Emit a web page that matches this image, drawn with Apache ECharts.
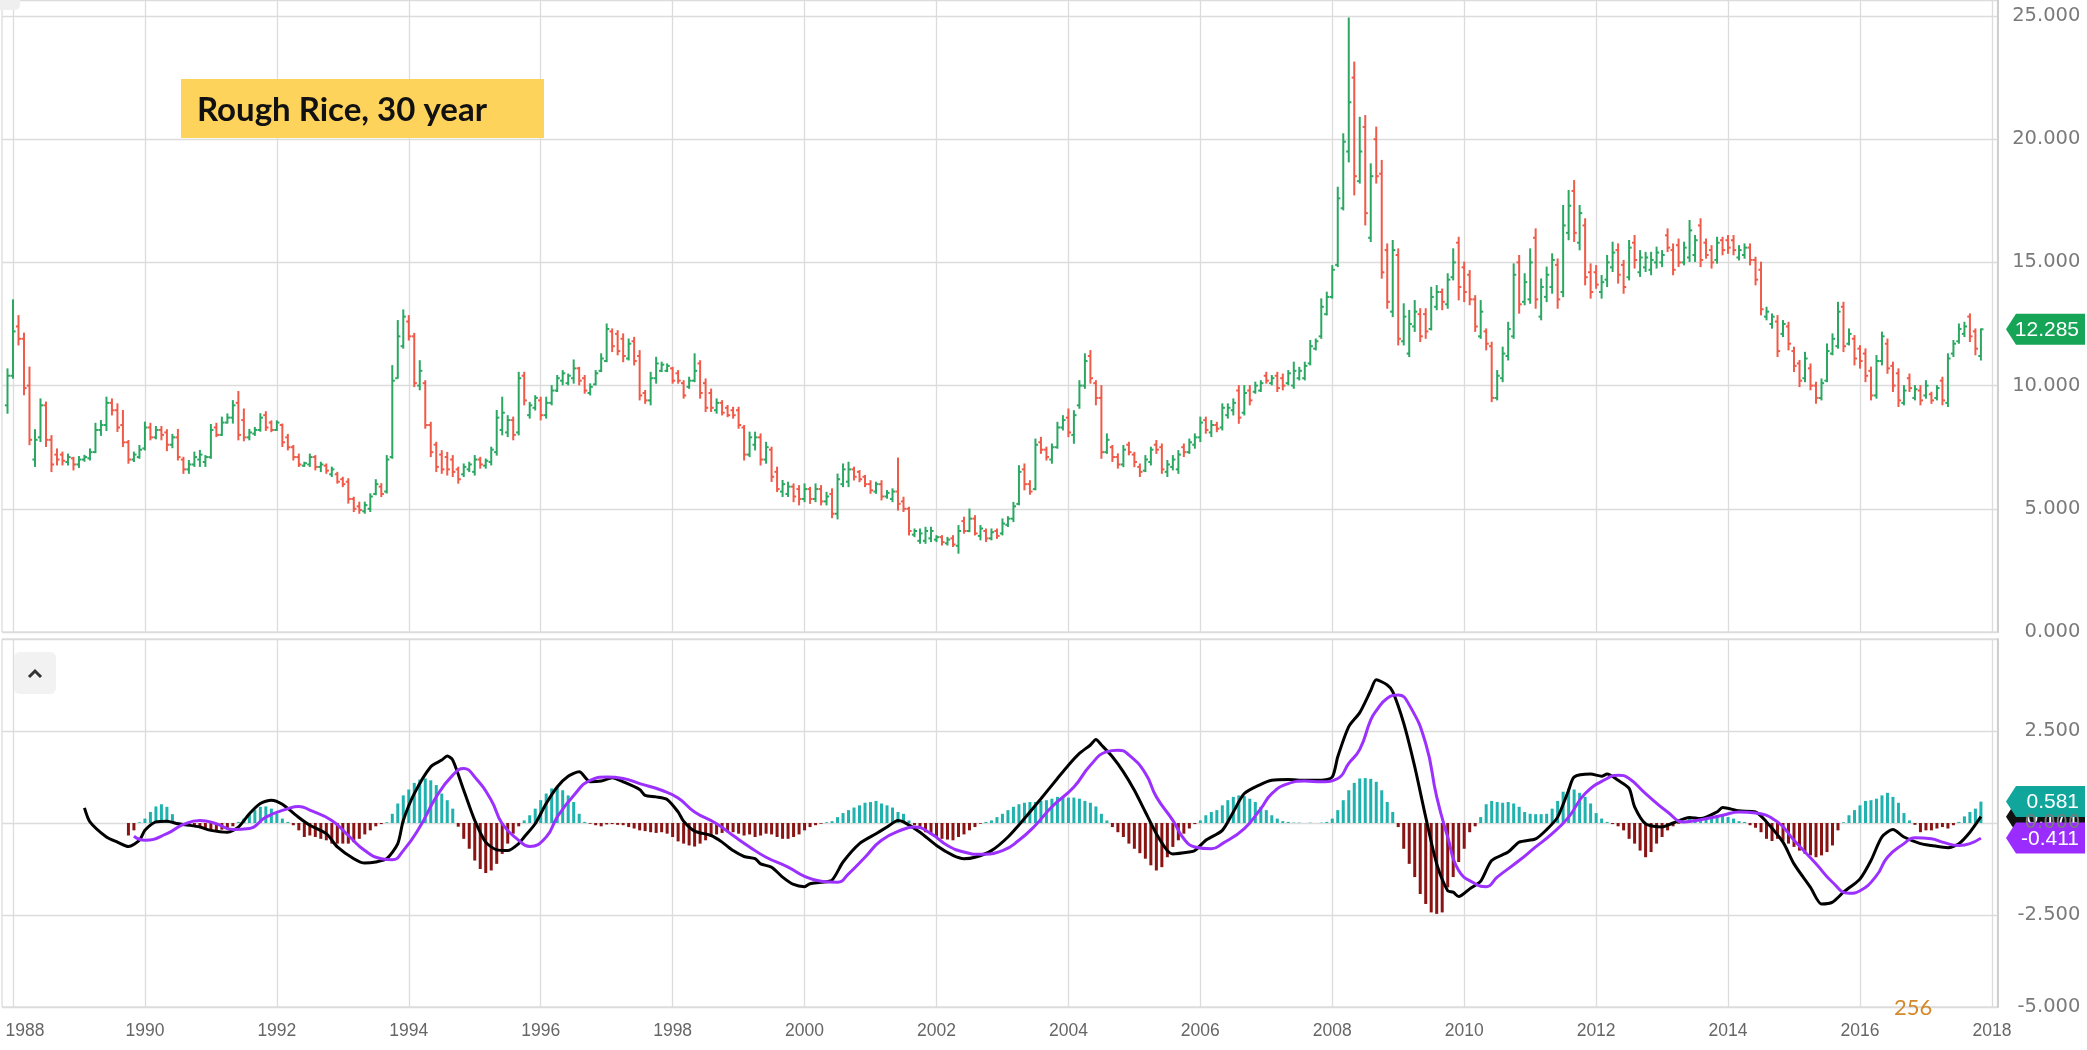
<!DOCTYPE html>
<html>
<head>
<meta charset="utf-8">
<title>Rough Rice, 30 year</title>
<script src="https://cdn.jsdelivr.net/npm/echarts@6/dist/echarts.min.js"></script>
<style>
  html, body { margin: 0; padding: 0; background: #ffffff; }
  #chart { width: 2087px; height: 1050px; }
</style>
</head>
<body>
<div id="chart"></div>
<script>
// Monthly rough rice futures bars, [open, high, low, close], first bar Dec 1987
const firstBarMonth = -1; // months counted from Jan 1988
const priceBars = [
  [9.2,10.66,8.9,10.4],[10.4,13.46,10.32,12.2],[12.4,12.82,11.67,11.9],[11.9,12.11,9.65,9.9],
  [10.0,10.73,7.62,7.8],[7.0,8.19,6.74,7.8],[7.9,9.44,7.75,9.2],[9.2,9.31,7.55,7.8],
  [7.8,7.95,6.53,6.8],[7.2,7.41,6.8,7.0],[7.2,7.28,6.8,6.95],[6.9,7.2,6.8,7.1],
  [7.05,7.07,6.6,6.8],[6.8,7.1,6.7,7.0],[7.0,7.15,6.95,7.1],[7.05,7.41,7.0,7.3],
  [7.3,8.45,7.3,8.2],[8.2,8.56,8.0,8.4],[8.4,9.51,8.2,9.3],[9.3,9.44,8.83,9.0],
  [9.0,9.24,8.16,8.3],[8.4,8.97,7.55,7.7],[7.7,7.75,6.87,7.0],[7.0,7.28,6.94,7.2],
  [7.1,7.55,7.07,7.4],[7.45,8.5,7.41,8.3],[8.3,8.45,7.82,7.9],[7.9,8.32,7.86,8.2],
  [8.2,8.32,7.82,8.0],[8.1,8.19,7.38,7.6],[7.6,8.0,7.5,7.9],[7.9,8.2,7.0,7.1],
  [7.0,7.07,6.46,6.6],[6.6,6.94,6.46,6.8],[6.8,7.28,6.74,7.1],[7.0,7.35,6.74,7.2],
  [6.9,7.14,6.74,7.1],[7.1,8.4,7.07,8.2],[8.3,8.45,7.95,8.0],[8.0,8.7,8.0,8.5],
  [8.5,8.83,8.5,8.7],[8.7,9.37,8.5,9.2],[9.3,9.74,7.82,8.0],[8.6,9.03,7.78,7.9],
  [7.9,8.2,7.82,8.1],[8.05,8.28,8.0,8.2],[8.2,8.84,8.17,8.7],[8.8,8.92,8.2,8.3],
  [8.5,8.55,8.15,8.2],[8.2,8.55,8.2,8.5],[8.4,8.42,7.55,7.7],[7.9,8.0,7.41,7.5],
  [7.5,7.55,7.0,7.1],[7.1,7.2,6.74,6.8],[6.75,6.87,6.74,6.85],[6.8,7.2,6.74,7.1],
  [7.1,7.14,6.6,6.7],[6.7,6.87,6.53,6.8],[6.75,6.8,6.46,6.55],[6.4,6.67,6.33,6.6],
  [6.4,6.46,6.06,6.1],[6.2,6.26,5.92,6.0],[6.1,6.2,5.25,5.4],[5.4,5.45,4.91,5.0],
  [5.1,5.25,4.84,4.95],[4.9,5.25,4.84,5.15],[5.0,5.59,4.91,5.5],[5.6,6.16,5.59,6.0],
  [5.9,6.0,5.52,5.6],[5.7,7.14,5.66,7.0],[7.1,10.79,7.07,10.2],
  [10.3,12.62,10.32,12.0],[11.6,13.05,11.54,12.8],[12.6,12.82,11.87,12.0],[12.0,12.1,9.98,10.1],
  [10.0,10.99,9.85,10.6],[10.1,10.18,8.29,8.4],[8.4,8.49,7.14,7.3],[7.6,7.68,6.53,6.7],
  [7.2,7.34,6.46,6.6],[7.1,7.27,6.39,6.6],[7.0,7.14,6.33,6.5],[6.6,6.67,6.06,6.2],
  [6.4,6.8,6.33,6.7],[6.6,6.87,6.53,6.8],[6.5,7.14,6.39,7.0],[7.0,7.07,6.67,6.8],
  [6.75,7.0,6.67,6.95],[6.9,7.48,6.8,7.4],[7.3,8.97,7.2,8.7],[8.2,9.51,8.02,8.9],
  [8.1,8.76,7.95,8.6],[8.6,8.7,7.82,8.0],[8.1,10.52,8.02,10.3],[10.4,10.52,9.24,9.4],
  [8.8,9.3,8.7,9.2],[9.1,9.57,9.03,9.5],[9.4,9.51,8.63,8.8],[8.8,9.51,8.7,9.3],
  [9.3,9.98,9.24,9.8],[9.8,10.39,9.78,10.3],[10.2,10.59,10.05,10.5],[10.1,10.45,10.05,10.4],
  [10.3,11.02,10.12,10.7],[10.7,10.72,10.05,10.2],[10.3,10.39,9.71,9.8],[9.7,10.05,9.64,9.95],
  [10.05,10.59,10.05,10.5],[10.6,11.27,10.59,11.1],[11.0,12.48,10.99,12.3],[12.2,12.28,11.4,11.6],
  [12.1,12.21,11.27,11.4],[11.9,12.08,10.99,11.2],[11.1,11.87,11.06,11.7],[11.8,11.94,10.86,11.0],
  [11.2,11.4,9.44,9.6],[9.7,9.78,9.3,9.4],[9.4,10.52,9.24,10.3],[10.3,11.13,10.12,10.9],
  [10.6,10.93,10.59,10.85],[10.6,10.86,10.59,10.8],[10.7,10.72,10.12,10.2],[10.5,10.59,10.12,10.2],
  [10.1,10.18,9.51,9.6],[9.95,10.32,9.91,10.2],[10.2,11.27,10.18,10.6],[10.9,10.99,9.51,9.7],
  [10.1,10.25,8.97,9.1],[9.7,9.84,8.97,9.1],[9.0,9.44,8.9,9.3],[9.3,9.37,8.83,8.9],
  [9.1,9.17,8.76,8.8],[9.0,9.1,8.7,8.8],[9.0,9.1,8.29,8.4],[8.3,8.36,7.0,7.2],
  [7.2,8.09,7.14,7.9],[7.6,8.09,7.41,7.9],[7.9,8.02,6.8,7.0],[7.0,7.68,6.87,7.5],
  [7.4,7.48,6.13,6.3],[6.5,6.67,5.72,5.8],[5.7,6.13,5.52,6.0],[5.6,6.06,5.52,5.9],
  [5.9,5.99,5.31,5.5],[5.8,5.92,5.18,5.4],
  [5.4,5.99,5.31,5.8],[5.8,5.85,5.24,5.4],[5.4,5.99,5.31,5.8],[5.8,5.92,5.18,5.3],
  [5.3,5.65,5.18,5.5],[5.6,5.79,4.66,4.8],[4.8,6.39,4.61,6.2],[6.0,6.8,5.92,6.6],
  [6.1,6.87,5.92,6.6],[6.6,6.67,6.19,6.3],[6.5,6.53,6.12,6.2],[6.3,6.33,5.92,6.0],
  [6.0,6.12,5.65,5.75],[5.7,6.06,5.65,6.0],[6.0,6.12,5.38,5.5],[5.5,5.72,5.45,5.65],
  [5.4,5.79,5.31,5.7],[5.7,7.04,4.97,5.2],[5.3,5.45,4.91,5.0],[5.0,5.04,3.96,4.1],
  [3.95,4.16,3.89,4.1],[3.7,4.16,3.62,4.0],[3.7,4.23,3.62,4.1],[3.8,4.23,3.69,4.1],
  [3.75,3.89,3.69,3.85],[3.85,3.89,3.55,3.65],[3.6,3.82,3.55,3.75],[3.8,3.89,3.49,3.55],
  [3.5,4.3,3.22,4.1],[4.5,4.64,4.03,4.1],[4.1,4.97,4.09,4.6],[4.6,4.7,3.96,4.0],
  [3.9,4.3,3.76,4.2],[4.1,4.16,3.69,3.8],[3.8,4.16,3.76,4.05],[4.1,4.16,3.82,3.9],
  [4.0,4.57,3.96,4.4],[4.35,4.66,4.3,4.6],[4.6,5.24,4.5,5.1],[5.2,6.73,5.18,6.5],
  [6.6,6.8,5.79,6.0],[6.0,6.12,5.61,5.7],[5.8,7.81,5.79,7.6],[7.7,7.88,7.27,7.4],
  [7.4,7.48,7.0,7.1],[7.0,7.61,6.87,7.5],[7.5,8.49,7.48,8.3],[8.3,8.76,8.22,8.6],
  [8.7,9.03,7.95,8.1],[8.0,8.96,7.68,8.8],[9.2,10.18,9.1,10.0],[10.0,11.27,9.91,11.0],
  [11.2,11.4,10.12,10.3],[10.1,10.18,9.24,9.5],[9.5,9.98,7.07,7.3],[7.3,8.02,7.27,7.8],
  [7.5,7.55,6.94,7.1],[7.1,7.21,6.67,6.8],[6.8,7.55,6.73,7.4],[7.6,7.68,7.21,7.3],
  [7.2,7.27,6.73,6.9],[6.7,6.8,6.33,6.5],[6.55,7.14,6.53,7.0],[6.9,7.48,6.8,7.4],
  [7.6,7.75,7.27,7.4],[7.5,7.61,6.46,6.6],[6.5,6.94,6.33,6.8],[6.7,7.14,6.6,7.0],
  [6.6,7.34,6.46,7.2],[7.5,7.61,7.14,7.3],[7.3,7.81,7.27,7.7],[7.6,8.02,7.48,7.9],
  [7.9,8.7,7.75,8.5],[8.6,8.7,8.09,8.2],[8.1,8.56,7.95,8.4],[8.4,8.49,8.15,8.25],
  [8.3,9.24,8.22,9.1],[8.8,9.24,8.7,9.1],[9.0,9.44,8.83,9.3],[9.8,9.98,8.49,8.7],
  [8.9,9.98,8.83,9.7],[9.8,9.98,9.24,9.4],[9.75,10.12,9.71,10.0],[9.8,10.18,9.78,10.1],
  [10.4,10.52,10.12,10.2],[10.1,10.39,10.05,10.3],[10.4,10.52,9.78,9.9],[10.3,10.45,9.85,10.0],
  [10.1,10.59,10.05,10.5],[10.0,10.93,9.91,10.6],[10.3,10.72,10.25,10.6],[10.3,10.93,10.25,10.8],
  [10.9,11.81,10.86,11.6],[11.5,11.87,11.47,11.8],[12.0,13.5,11.94,13.2],[12.9,13.77,12.89,13.6],
  [13.6,14.85,13.57,14.7],[14.9,18.03,14.85,17.6],[17.2,20.2,17.15,19.9],[19.5,24.9,19.1,21.5],
  [22.5,23.11,17.76,18.5],[18.3,20.87,18.24,19.5],[20.5,20.94,16.54,17.0],[16.0,18.98,15.87,18.5],
  [20.0,20.47,18.24,18.5],[18.6,19.12,14.38,14.6],[15.5,15.73,13.16,13.4],[13.0,15.87,12.82,15.5],
  [15.3,15.53,11.67,11.9],[11.8,13.3,11.67,12.8],[11.3,13.03,11.2,12.5],[12.4,13.43,12.22,13.0],
  [12.9,13.1,11.81,12.0],[12.9,13.1,11.94,12.2],[12.3,13.97,12.28,13.6],[13.2,14.04,13.1,13.8],
  [13.8,13.9,13.1,13.4],[13.3,14.52,13.16,14.3],[14.4,15.53,14.31,15.0],[15.8,16.0,13.5,14.0],
  [14.8,14.99,13.43,13.8],[14.5,14.65,13.3,13.5],[13.5,13.63,12.22,12.4],[12.0,13.43,11.94,13.0],
  [12.2,12.28,11.47,11.7],[11.6,11.74,9.37,9.5],[9.5,10.59,9.44,10.4],[10.3,11.54,10.18,11.3],
  [11.2,12.55,11.06,12.3],[12.0,14.92,11.94,14.5],[15.0,15.26,12.96,13.3],[13.4,14.52,13.3,14.2],
  [13.5,15.53,13.36,15.0],[16.0,16.34,13.16,13.5],[12.8,14.31,12.69,14.0],[13.6,14.79,13.43,14.5],
  [14.0,15.33,13.77,15.1],[14.9,15.12,13.16,13.5],[13.8,17.29,13.63,16.5],[16.2,17.9,15.94,17.3],
  [17.9,18.3,15.87,16.2],[15.8,17.29,15.53,17.0],[16.5,16.75,14.11,14.4],[14.6,14.92,13.57,13.8],
  [14.6,14.85,13.97,14.1],
  [13.8,14.45,13.57,14.2],[14.3,15.26,14.04,15.0],[14.8,15.8,14.65,15.4],[15.5,15.73,14.18,14.5],
  [14.9,15.06,13.77,14.0],[14.4,15.87,14.31,15.6],[15.8,16.07,14.79,15.1],[14.6,15.46,14.45,15.2],
  [14.8,15.39,14.65,15.2],[14.7,15.39,14.52,15.1],[15.0,15.6,14.79,15.4],[15.0,15.46,14.85,15.3],
  [16.1,16.34,15.46,15.6],[15.5,15.73,14.52,14.7],[15.7,15.93,14.85,15.0],[15.0,15.8,14.92,15.6],
  [15.2,16.68,15.06,16.3],[15.3,16.07,15.06,15.9],[16.5,16.75,14.85,15.1],[15.8,15.93,15.19,15.3],
  [15.5,15.66,14.79,15.0],[15.1,16.0,14.99,15.8],[15.9,16.0,15.33,15.5],[15.9,16.07,15.39,15.6],
  [15.9,16.07,15.33,15.5],[15.2,15.66,15.12,15.5],[15.3,15.73,15.19,15.6],[15.6,15.73,14.92,15.1],
  [15.1,15.19,14.11,14.3],[14.7,14.99,12.89,13.1],[12.8,13.16,12.69,13.0],[12.5,12.89,12.35,12.8],
  [12.6,12.82,11.2,11.4],[12.1,12.62,12.01,12.5],[12.4,12.55,11.47,11.7],[11.4,11.54,10.59,10.8],
  [10.9,11.0,9.98,10.2],[10.3,11.33,10.18,11.1],[10.7,10.86,9.85,10.0],[10.0,10.12,9.3,9.5],
  [9.5,10.25,9.44,10.1],[10.2,11.67,10.18,11.4],[11.3,12.08,11.27,11.9],[11.6,13.36,11.54,13.0],
  [13.2,13.36,11.4,11.6],[11.7,12.28,11.67,12.1],[11.9,12.01,10.86,11.1],[11.5,11.6,10.73,11.0],
  [11.3,11.47,10.18,10.4],[10.6,10.73,9.44,9.6],[9.6,11.2,9.51,11.0],[11.0,12.15,10.86,12.0],
  [11.7,11.87,10.52,10.7],[10.8,10.93,9.78,10.0],[10.5,10.66,9.17,9.4],[9.3,9.98,9.24,9.8],
  [10.3,10.45,9.78,9.9],[9.5,9.98,9.44,9.85],[9.8,9.98,9.24,9.4],[9.6,10.18,9.51,10.0],
  [9.65,9.71,9.3,9.4],[9.5,9.98,9.44,9.9],[10.2,10.32,9.24,9.4],[9.3,11.27,9.17,11.1],
  [11.3,11.81,11.2,11.7],[11.8,12.48,11.74,12.3],[12.1,12.55,12.01,12.4],[12.8,12.89,11.81,12.0],
  [12.2,12.28,11.27,11.5],[11.2,12.28,11.06,12.285]
];

// MACD line, [month from Jan 1988, value]
const macdLine = [
  [13,0.41],[14,0.03],[17,-0.38],[19,-0.52],[21,-0.64],[23,-0.47],[24,-0.2],[26,0.03],[28,0.05],
  [30,-0.02],[32,-0.06],[34,-0.11],[36,-0.2],[39,-0.25],[41,-0.11],[43,0.25],[45,0.53],[47,0.62],
  [49,0.51],[52,0.15],[54,-0.06],[57,-0.29],[59,-0.65],[62,-0.97],[64,-1.09],[66,-1.06],[68,-0.97],
  [70,-0.56],[71,0.07],[73,0.8],[76,1.53],[78,1.71],[79,1.82],[80,1.71],[82,0.89],[84,0.07],
  [86,-0.52],[88,-0.73],[90,-0.75],[92,-0.56],[93,-0.38],[95,-0.02],[97,0.53],[99,0.98],[101,1.27],
  [103,1.39],[105,1.12],[107,1.14],[109,1.23],[111,1.12],[114,0.91],[115,0.75],[117,0.71],[119,0.64],
  [121,0.3],[122,0.05],[124,-0.22],[127,-0.34],[129,-0.52],[131,-0.75],[133,-0.91],[135,-0.97],
  [136,-1.11],[138,-1.2],[140,-1.47],[142,-1.67],[144,-1.73],[145,-1.65],[147,-1.61],[149,-1.55],
  [151,-1.06],[154,-0.56],[157,-0.29],[159,-0.11],[161,0.07],[162,0.03],[165,-0.25],[168,-0.61],
  [171,-0.88],[173,-0.97],[175,-0.93],[178,-0.75],[181,-0.38],[184,0.12],[187,0.66],[190,1.21],
  [192,1.57],[194,1.89],[196,2.12],[197,2.27],[198,2.12],[200,1.8],[202,1.39],[204,0.89],[206,0.3],
  [208,-0.29],[210,-0.75],[211,-0.84],[214,-0.79],[215,-0.75],[217,-0.47],[220,-0.2],[222,0.3],
  [224,0.8],[227,1.05],[229,1.16],[232,1.18],[235,1.16],[238,1.16],[240,1.25],[241,1.8],[243,2.62],
  [245,3.0],[247,3.6],[248,3.89],[250,3.75],[251,3.57],[253,2.71],[255,1.53],[257,0.16],[259,-1.11],
  [261,-1.84],[262,-1.88],[263,-2.0],[265,-1.79],[267,-1.58],[269,-1.02],[272,-0.79],[274,-0.52],
  [277,-0.43],[279,-0.18],[281,0.16],[283,0.89],[284,1.25],[287,1.33],[289,1.27],[290,1.33],
  [292,1.16],[294,0.94],[295,0.44],[297,-0.02],[300,-0.11],[302,0.0],[305,0.15],[307,0.12],
  [310,0.3],[311,0.42],[314,0.33],[317,0.3],[319,0.03],[322,-0.52],[324,-1.11],[327,-1.75],
  [329,-2.2],[331,-2.15],[333,-1.88],[336,-1.52],[338,-1.02],[340,-0.38],[342,-0.18],[344,-0.38],
  [347,-0.56],[349,-0.61],[352,-0.67],[354,-0.56],[356,-0.25],[358,0.171]
];

// Signal line, [month from Jan 1988, value]
const signalLine = [
  [22,-0.36],[24,-0.47],[28,-0.29],[31,-0.04],[34,0.07],[37,-0.02],[40,-0.18],[43,-0.15],[46,0.16],
  [50,0.39],[52,0.45],[54,0.35],[58,0.07],[61,-0.34],[64,-0.75],[67,-0.97],[69,-1.0],[71,-0.75],
  [74,-0.11],[77,0.71],[80,1.3],[82,1.48],[84,1.25],[87,0.62],[89,-0.02],[92,-0.47],[94,-0.64],
  [97,-0.38],[99,0.16],[102,0.75],[105,1.16],[108,1.25],[111,1.21],[114,1.07],[118,0.89],[121,0.68],
  [124,0.3],[128,-0.02],[131,-0.34],[134,-0.65],[137,-0.93],[141,-1.2],[144,-1.45],[147,-1.58],
  [150,-1.61],[152,-1.38],[155,-0.93],[158,-0.47],[162,-0.17],[164,-0.11],[167,-0.29],[170,-0.61],
  [173,-0.79],[176,-0.85],[180,-0.75],[183,-0.47],[186,-0.06],[189,0.44],[193,0.98],[196,1.57],
  [199,1.94],[201,1.98],[203,1.85],[206,1.35],[208,0.71],[211,0.07],[213,-0.43],[215,-0.65],
  [218,-0.7],[220,-0.56],[224,-0.15],[227,0.39],[229,0.8],[232,1.07],[235,1.14],[238,1.12],
  [241,1.21],[243,1.62],[245,2.0],[247,2.8],[248,3.05],[250,3.39],[252,3.48],[254,3.21],[257,2.16],
  [259,0.71],[261,-0.38],[263,-1.29],[266,-1.65],[268,-1.73],[270,-1.47],[274,-1.02],[277,-0.65],
  [280,-0.29],[283,0.16],[286,0.8],[290,1.21],[292,1.3],[294,1.21],[297,0.8],[301,0.3],[304,0.03],
  [307,0.09],[311,0.21],[314,0.3],[317,0.27],[321,0.03],[324,-0.47],[328,-1.11],[331,-1.61],
  [334,-1.91],[336,-1.84],[339,-1.43],[341,-0.93],[344,-0.56],[346,-0.4],[349,-0.43],[351,-0.52],
  [354,-0.61],[356,-0.56],[358,-0.411]
];

// MACD histogram, one value per month starting Oct 1989
const histStartMonth = 21;
const histogram = [
  -0.34,-0.2,0.02,0.12,0.3,0.45,0.51,0.44,0.24,0.03,
  -0.03,-0.06,-0.09,-0.11,-0.15,-0.18,-0.2,-0.18,-0.15,-0.09,
  0.03,0.12,0.25,0.35,0.44,0.45,0.39,0.25,0.12,0.03,
  -0.06,-0.2,-0.38,-0.34,-0.38,-0.43,-0.47,-0.56,-0.56,-0.56,
  -0.56,-0.52,-0.43,-0.31,-0.2,-0.09,-0.03,0.02,0.25,0.53,
  0.75,0.91,1.09,1.18,1.21,1.16,1.03,0.8,0.62,0.39,
  -0.1,-0.43,-0.7,-1.02,-1.25,-1.36,-1.29,-1.11,-0.84,-0.56,
  -0.29,-0.09,0.07,0.21,0.39,0.62,0.8,0.94,0.98,0.89,
  0.75,0.57,0.25,0.03,-0.02,-0.06,-0.09,-0.04,-0.03,-0.05,
  -0.06,-0.11,-0.15,-0.2,-0.22,-0.25,-0.27,-0.25,-0.29,-0.38,
  -0.5,-0.56,-0.61,-0.64,-0.56,-0.47,-0.38,-0.31,-0.27,-0.25,
  -0.25,-0.29,-0.34,-0.31,-0.38,-0.34,-0.29,-0.31,-0.38,-0.43,
  -0.43,-0.38,-0.31,-0.2,-0.11,-0.06,-0.02,0.02,0.05,0.16,
  0.27,0.35,0.42,0.48,0.55,0.57,0.6,0.53,0.48,0.42,
  0.3,0.25,0.07,-0.06,-0.15,-0.25,-0.31,-0.38,-0.43,-0.45,
  -0.47,-0.38,-0.31,-0.2,-0.11,-0.02,0.03,0.07,0.16,0.25,
  0.35,0.44,0.51,0.55,0.57,0.57,0.6,0.62,0.66,0.71,
  0.71,0.69,0.69,0.66,0.6,0.55,0.45,0.25,0.07,-0.11,
  -0.25,-0.38,-0.56,-0.7,-0.82,-0.97,-1.15,-1.29,-1.2,-0.93,
  -0.65,-0.47,-0.29,-0.15,-0.03,0.07,0.21,0.3,0.35,0.48,
  0.62,0.71,0.75,0.73,0.66,0.57,0.44,0.35,0.21,0.12,
  0.05,0.03,0.01,0.01,0.0,0.01,0.0,0.01,0.03,0.12,
  0.35,0.62,0.89,1.09,1.21,1.22,1.2,1.12,0.89,0.57,
  0.3,-0.11,-0.7,-1.11,-1.47,-1.93,-2.2,-2.43,-2.47,-2.43,
  -1.75,-1.47,-1.06,-0.7,-0.25,-0.09,0.16,0.51,0.6,0.57,
  0.55,0.57,0.53,0.44,0.3,0.25,0.24,0.24,0.25,0.39,
  0.6,0.85,0.94,0.91,0.82,0.71,0.53,0.27,0.12,0.03,
  -0.03,-0.09,-0.2,-0.43,-0.56,-0.75,-0.93,-0.79,-0.56,-0.38,
  -0.2,-0.09,-0.02,0.03,0.12,0.09,0.07,0.12,0.15,0.16,
  0.21,0.16,0.12,0.05,0.03,-0.06,-0.13,-0.25,-0.43,-0.49,
  -0.43,-0.49,-0.56,-0.65,-0.75,-0.84,-0.88,-0.93,-0.88,-0.79,
  -0.61,-0.2,0.02,0.21,0.35,0.48,0.6,0.62,0.66,0.75,
  0.82,0.71,0.55,0.27,0.07,-0.05,-0.25,-0.2,-0.2,-0.15,
  -0.11,-0.15,-0.06,0.03,0.18,0.3,0.39,0.581
];

// Axis tick values
const priceTicks = { min: 0, max: 25.65, step: 5 };
const macdTicks = { min: -5, max: 5, step: 2.5 };

const UP = '#2aa862', DOWN = '#f05a48';
const HIST_UP = '#1fb2ae', HIST_DOWN = '#8a1414';
const SIGNAL = '#9b30ff';
const GRID_LINE = '#dcdcdc';

// monthly categories Nov 1987 .. Feb 2018 (month offset -2 .. 361)
const firstMonth = -2, lastMonth = 361;
const categories = [];
for (let k = firstMonth; k <= lastMonth; k++) {
  const y = 1988 + Math.floor(k / 12);
  const mo = ((k % 12) + 12) % 12 + 1;
  categories.push(y + '-' + String(mo).padStart(2, '0'));
}
const idxOf = m => m - firstMonth;
const isYearLine = (i, v) => v.endsWith('-01') && (+v.slice(0, 4)) % 2 === 0;

const chart = echarts.init(document.getElementById('chart'));

const xBase = {
  type: 'category',
  data: categories,
  boundaryGap: false,
  axisLine: { show: false },
  axisTick: { show: false },
  splitLine: { show: true, interval: isYearLine, lineStyle: { color: GRID_LINE, width: 1.3 } }
};
const yBase = {
  type: 'value',
  position: 'right',
  axisLine: { show: true, lineStyle: { color: '#cfcfcf', width: 2 } },
  axisTick: { show: false },
  splitLine: { show: true, lineStyle: { color: GRID_LINE, width: 1.3 } },
  axisLabel: {
    showMaxLabel: false,
    align: 'right',
    margin: 83,
    color: '#7a7a7a',
    fontSize: 19.5,
    fontFamily: 'DejaVu Sans',
    formatter: v => v.toFixed(3)
  }
};

const option = {
  animation: false,
  backgroundColor: '#ffffff',
  grid: [
    { left: 2, right: 89.6, top: 0, height: 632, show: true, borderColor: '#d2d2d2', borderWidth: 1 },
    { left: 2, right: 89.6, top: 639, height: 368, show: true, borderColor: '#d2d2d2', borderWidth: 1 }
  ],
  xAxis: [
    Object.assign({}, xBase, { gridIndex: 0, axisLabel: { show: false } }),
    Object.assign({}, xBase, {
      gridIndex: 1,
      axisLabel: {
        show: true,
        interval: isYearLine,
        margin: 15,
        color: '#666',
        fontSize: 17.5,
        fontFamily: 'Liberation Sans',
        formatter: v => (v.slice(0, 4) === '1988' ? '{first|1988}' : v.slice(0, 4)),
        rich: { first: { padding: [0, 0, 0, 24], color: '#666', fontSize: 17.5, fontFamily: 'Liberation Sans' } }
      }
    })
  ],
  yAxis: [
    Object.assign({}, yBase, { gridIndex: 0, min: priceTicks.min, max: priceTicks.max, interval: priceTicks.step }),
    Object.assign({}, yBase, { gridIndex: 1, min: macdTicks.min, max: macdTicks.max, interval: macdTicks.step })
  ],
  series: [
    {
      name: 'Rough Rice',
      type: 'custom',
      xAxisIndex: 0,
      yAxisIndex: 0,
      data: priceBars.map((b, i) => [idxOf(firstBarMonth + i), b[0], b[1], b[2], b[3]]),
      encode: { x: 0, y: [1, 2, 3, 4] },
      renderItem: (params, api) => {
        const x = api.value(0);
        const o = api.coord([x, api.value(1)]);
        const h = api.coord([x, api.value(2)]);
        const l = api.coord([x, api.value(3)]);
        const c = api.coord([x, api.value(4)]);
        const color = api.value(4) >= api.value(1) ? UP : DOWN;
        const st = { stroke: color, lineWidth: 2 };
        return {
          type: 'group',
          children: [
            { type: 'line', shape: { x1: h[0], y1: h[1] - 1, x2: l[0], y2: l[1] + 1 }, style: st },
            { type: 'line', shape: { x1: o[0] - 2.6, y1: o[1], x2: o[0], y2: o[1] }, style: st },
            { type: 'line', shape: { x1: c[0], y1: c[1], x2: c[0] + 2.6, y2: c[1] }, style: st }
          ]
        };
      }
    },
    {
      name: 'Histogram',
      type: 'bar',
      xAxisIndex: 1,
      yAxisIndex: 1,
      barWidth: 3,
      data: histogram.map((v, i) => ({
        value: [idxOf(histStartMonth + i), v],
        itemStyle: { color: v >= 0 ? HIST_UP : HIST_DOWN }
      }))
    },
    {
      name: 'MACD',
      type: 'line',
      xAxisIndex: 1,
      yAxisIndex: 1,
      showSymbol: false,
      smooth: 0.25,
      lineStyle: { color: '#000', width: 3 },
      data: macdLine.map(([m, v]) => [idxOf(m), v])
    },
    {
      name: 'Signal',
      type: 'line',
      xAxisIndex: 1,
      yAxisIndex: 1,
      showSymbol: false,
      smooth: 0.5,
      lineStyle: { color: SIGNAL, width: 3 },
      data: signalLine.map(([m, v]) => [idxOf(m), v])
    }
  ]
};
chart.setOption(option);

// Last-value tags on the price scale
function valueTag(y, text, color) {
  const tip = 2006, left = 2016, right = 2085, hh = 15.5;
  return {
    type: 'group',
    z: 100,
    children: [
      { type: 'polygon', shape: { points: [[tip, y], [left, y - hh], [right, y - hh], [right, y + hh], [left, y + hh]] },
        style: { fill: color } },
      { type: 'text', x: 2079, y: y + 1,
        style: { text: text, fill: '#ffffff', fontSize: 21, fontFamily: 'Liberation Sans', align: 'right', verticalAlign: 'middle' } }
    ]
  };
}
const lastBar = priceBars[priceBars.length - 1];
const lastMacd = macdLine[macdLine.length - 1][1];
const lastSignal = signalLine[signalLine.length - 1][1];
const lastHist = histogram[histogram.length - 1];
const yPrice = v => chart.convertToPixel({ yAxisIndex: 0 }, v);
const yMacd = v => chart.convertToPixel({ yAxisIndex: 1 }, v);

chart.setOption({
  graphic: [
    // partially visible control at the top-left corner
    { type: 'rect', shape: { x: -12, y: -26, width: 32, height: 36, r: 5 }, style: { fill: '#efefef' } },
    // collapse button of the indicator pane
    { type: 'rect', shape: { x: 14, y: 652, width: 42, height: 42, r: 6 }, style: { fill: '#f2f2f2' } },
    { type: 'polyline', shape: { points: [[29, 677], [35, 671], [41, 677]] },
      style: { stroke: '#333', lineWidth: 3, fill: null } },
    // title box
    { type: 'rect', shape: { x: 181, y: 79, width: 363, height: 59 }, style: { fill: '#fdd35b' } },
    { type: 'text', x: 197, y: 110,
      style: { text: 'Rough Rice, 30 year', fill: '#111', fontSize: 33, fontWeight: 'bold', fontFamily: 'Lato', verticalAlign: 'middle' } },
    // page number
    { type: 'text', x: 1894, y: 1008,
      style: { text: '256', fill: '#d4882a', fontSize: 22, fontFamily: 'Lato', verticalAlign: 'middle' } },
    valueTag(yPrice(lastBar[3]), lastBar[3].toFixed(3), '#16a457'),
    valueTag(yMacd(lastMacd), lastMacd.toFixed(3), '#111111'),
    valueTag(yMacd(lastHist), lastHist.toFixed(3), '#10a69c'),
    valueTag(yMacd(lastSignal), lastSignal.toFixed(3), '#9a2cff')
  ]
});
</script>
</body>
</html>
